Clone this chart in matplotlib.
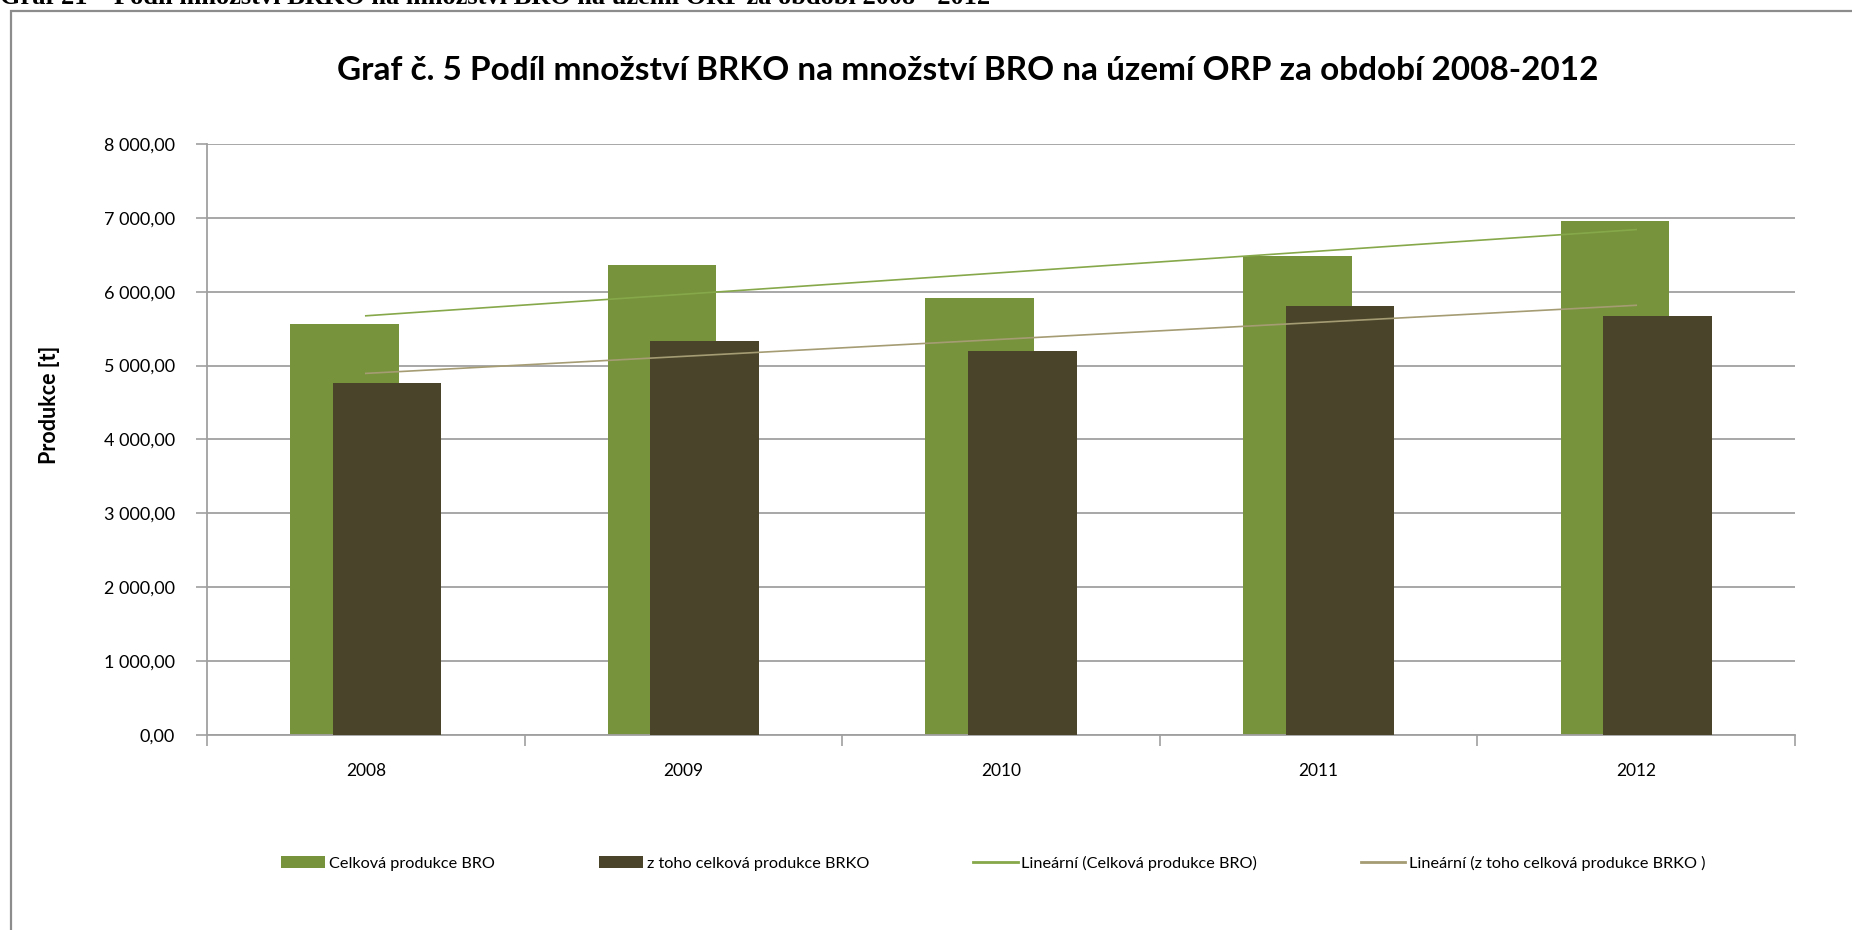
import numpy as np
import matplotlib
matplotlib.use("Agg")
import matplotlib.pyplot as plt
from matplotlib.patches import Patch, Rectangle
from matplotlib.lines import Line2D
from matplotlib.ticker import FuncFormatter, FixedLocator

# data
roky = ["2008", "2009", "2010", "2011", "2012"]
bro = [5566, 6357, 5919, 6488, 6959]      # Celková produkce BRO
brko = [4760, 5335, 5199, 5810, 5675]     # z toho celková produkce BRKO

zelena = "#77933C"
hneda = "#4A452A"
trend_zel = "#86A84A"
trend_hn = "#A59C74"
seda = "#A0A0A0"

plt.rcParams['font.family'] = ['Lato', 'DejaVu Sans']

fig = plt.figure(figsize=(18.52, 9.30), dpi=100)
W, H = 1852, 930

# outer frame of the chart object
fig.patches.append(Rectangle((11 / W, -0.1), 1.2, 1 - 11 / H + 0.1, transform=fig.transFigure,
                             fill=False, edgecolor="#8C8C8C", linewidth=1.6))

# document caption, cut off at the top like in the source
fig.text(0.0, 1 - 4 / H, "Graf 21 – Podíl množství BRKO na množství BRO na území ORP za období 2008 - 2012",
         family="Liberation Serif", fontweight="bold", fontsize=19, ha="left", va="baseline")

ax = fig.add_axes([207 / W, 195 / H, 1588 / W, 591 / H])

x = np.arange(len(roky))
sirka = 0.342
posun = 0.067
ax.bar(x - posun, bro, width=sirka, color=zelena, zorder=2)
ax.bar(x + posun, brko, width=sirka, color=hneda, zorder=3)

# linear trend lines (Excel "Lineární")
k1 = np.polyfit(x, bro, 1)
k2 = np.polyfit(x, brko, 1)
ax.plot(x, np.polyval(k1, x), color=trend_zel, lw=1.2, zorder=4)
ax.plot(x, np.polyval(k2, x), color=trend_hn, lw=1.2, zorder=4)

ax.set_xlim(-0.5, len(roky) - 0.5)
ax.set_ylim(0, 8000)
ax.set_yticks(np.arange(0, 8001, 1000))
ax.yaxis.set_major_formatter(FuncFormatter(lambda v, p: f"{v:,.2f}".replace(",", " ").replace(".", ",")))
ax.grid(axis="y", color=seda, lw=1.3, zorder=0)
ax.set_axisbelow(True)

ax.set_xticks(x)
ax.set_xticklabels(roky)
ax.xaxis.set_minor_locator(FixedLocator(np.arange(-0.5, len(roky), 1)))
ax.tick_params(axis="x", which="major", length=0, pad=20, labelsize=12.5, colors="black")
ax.tick_params(axis="x", which="minor", length=8, color=seda, width=1.2)
ax.tick_params(axis="y", length=8, color=seda, width=1.2, pad=15, labelsize=13)

for s in ["top", "right"]:
    ax.spines[s].set_visible(False)
for s in ["left", "bottom"]:
    ax.spines[s].set_color(seda)
    ax.spines[s].set_linewidth(1.3)

fig.text(968 / W, 1 - 70 / H, "Graf č. 5 Podíl množství BRKO na množství BRO na území ORP za období 2008-2012",
         fontsize=24, fontweight="bold", ha="center", va="center")
fig.text(50 / W, 1 - 405 / H, "Produkce [t]", rotation=90, fontsize=15.5, fontweight="bold",
         ha="center", va="center")

handles = [Patch(facecolor=zelena), Patch(facecolor=hneda),
           Line2D([], [], color=trend_zel, lw=2), Line2D([], [], color=trend_hn, lw=2)]
labels = ["Celková produkce BRO", "z toho celková produkce BRKO",
          "Lineární (Celková produkce BRO)", "Lineární (z toho celková produkce BRKO )"]
fig.legend(handles, labels, loc="center", bbox_to_anchor=(993 / W, 1 - 863 / H), ncol=4,
           frameon=False, fontsize=11.7, handlelength=2.75, handleheight=0.8,
           handletextpad=0.2, columnspacing=6.4)

fig.savefig("out.png", dpi=100)
